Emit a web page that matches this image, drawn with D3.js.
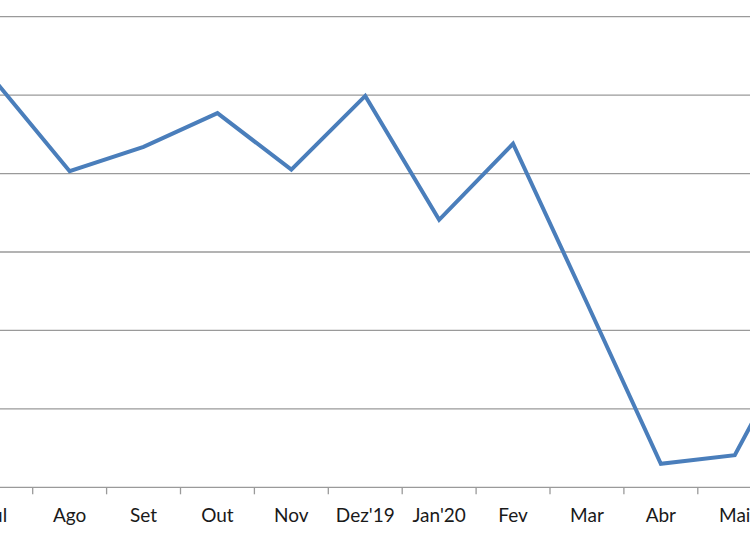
<!DOCTYPE html>
<html>
<head>
<meta charset="utf-8">
<script src="https://cdn.jsdelivr.net/npm/d3@7"></script>
<style>
  html, body { margin: 0; padding: 0; background: #fff; }
  svg { display: block; }
</style>
</head>
<body>
<svg id="chart" width="750" height="536"></svg>
<script>
// Data (y-axis labels are cropped out in the reference; values in gridline units)
const categories = ["Jul", "Ago", "Set", "Out", "Nov", "Dez'19", "Jan'20", "Fev", "Mar", "Abr", "Mai", "Jun"];
const values = [5.17, 4.03, 4.34, 4.77, 4.05, 4.99, 3.41, 4.38, 2.35, 0.30, 0.41, 2.17];
const yTicks = [0, 1, 2, 3, 4, 5, 6];

const svg = d3.select("#chart");
const W = 750, H = 536;
const step = 73.9;
const x0 = -41.2;

const x = d3.scaleBand()
  .domain(categories)
  .range([x0, x0 + step * categories.length])
  .paddingInner(0).paddingOuter(0);

const y = d3.scaleLinear().domain([0, 6]).range([487.3, 16.7]);

// Gridlines
svg.append("g")
  .selectAll("line")
  .data(yTicks.filter(d => d > 0))
  .join("line")
  .attr("x1", 0).attr("x2", W)
  .attr("y1", d => y(d)).attr("y2", d => y(d))
  .attr("stroke", "#9a9a9a")
  .attr("stroke-width", 1.3);

// X axis
const gx = svg.append("g").attr("transform", `translate(0,${y(0)})`);
gx.append("line")
  .attr("x1", 0).attr("x2", W)
  .attr("y1", 0).attr("y2", 0)
  .attr("stroke", "#9a9a9a").attr("stroke-width", 1.3);

// tick marks at category boundaries
const boundaries = categories.map(c => x(c)).concat([x(categories[categories.length - 1]) + x.bandwidth()]);
gx.selectAll("line.tick")
  .data(boundaries)
  .join("line")
  .attr("class", "tick")
  .attr("x1", d => d).attr("x2", d => d)
  .attr("y1", 0).attr("y2", 7)
  .attr("stroke", "#9a9a9a").attr("stroke-width", 1.3);

gx.selectAll("text.lbl")
  .data(categories)
  .join("text")
  .attr("class", "lbl")
  .attr("x", d => x(d) + x.bandwidth() / 2)
  .attr("y", 34.5)
  .attr("text-anchor", "middle")
  .attr("font-family", "Lato, 'Open Sans', sans-serif")
  .attr("font-size", 19)
  .attr("fill", "#1a1a1a")
  .text(d => d);

// Line
const line = d3.line()
  .x((d, i) => x(categories[i]) + x.bandwidth() / 2)
  .y(d => y(d));

svg.append("path")
  .datum(values)
  .attr("d", line)
  .attr("fill", "none")
  .attr("stroke", "#4a7ebb")
  .attr("stroke-width", 4)
  .attr("stroke-linejoin", "miter");
</script>
</body>
</html>
